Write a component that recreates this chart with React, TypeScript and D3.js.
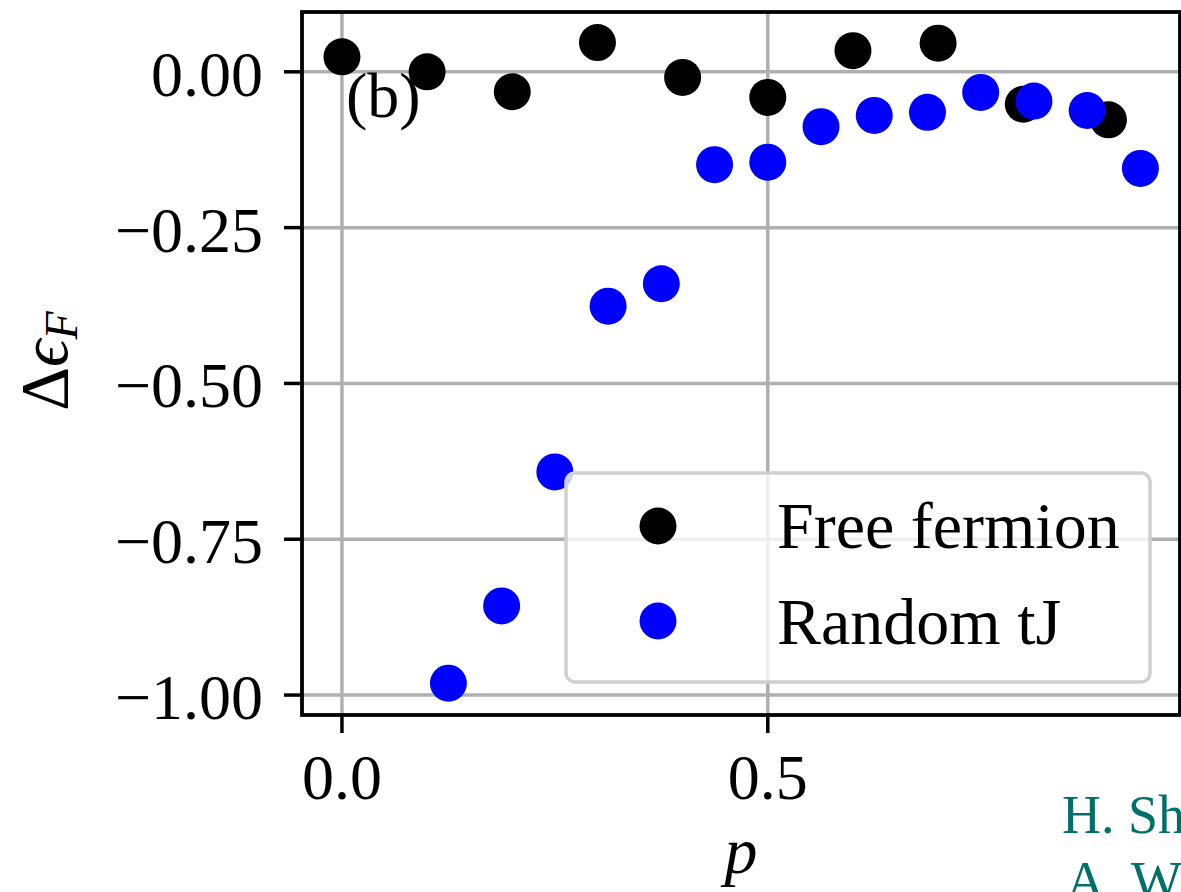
import React from "react";
import * as d3 from "d3";

// ---- data ----
const pFree = [0.0, 0.1, 0.2, 0.3, 0.4, 0.5, 0.6, 0.7, 0.8, 0.9];
const deltaFree = [0.024, 0.0, -0.032, 0.047, -0.009, -0.041, 0.034, 0.046, -0.052, -0.077];

const pTJ = [0.125, 0.1875, 0.25, 0.3125, 0.375, 0.4375, 0.5, 0.5625, 0.625, 0.6875, 0.75, 0.8125, 0.875, 0.9375];
const deltaTJ = [-0.981, -0.857, -0.642, -0.376, -0.340, -0.149, -0.145, -0.088, -0.070, -0.065, -0.033, -0.047, -0.062, -0.155];

const yTicks = [0, -0.25, -0.5, -0.75, -1.0];
const xTicks = [0.0, 0.5, 1.0];
const seriesNames = ["Free fermion", "Random tJ"];
const seriesColors = ["#000000", "#0000ff"];

const W = 1181;
const H = 892;
const L = 302, R = 1180, T = 12, B = 715;

const FONT = "'Liberation Serif', 'Times New Roman', serif";

export default function App() {
  const x = d3.scaleLinear().domain([-0.0469, 0.984]).range([L, R]);
  const y = d3.scaleLinear().domain([-1.032, 0.096]).range([B, T]);
  const fmtY = (v: number) => {
    const s = d3.format(".2f")(Math.abs(v));
    return (v < 0 ? "\u2212" : "") + s;
  };
  const fmtX = d3.format(".1f");
  const r = 18.5;
  const gridColor = "#b0b0b0";

  const legX = 566, legY = 473, legW = 584, legH = 209;

  return (
    <div style={{ position: "fixed", left: 0, top: 0, width: W, height: H, overflow: "hidden", background: "#fff" }}>
      <svg width={W} height={H} style={{ display: "block" }}>
        <defs>
          <clipPath id="plotclip">
            <rect x={L} y={T} width={R - L} height={B - T} />
          </clipPath>
        </defs>
        <rect x={0} y={0} width={W} height={H} fill="#fff" />
        {/* grid */}
        <g clipPath="url(#plotclip)">
          {yTicks.map((t) => (
            <line key={"gy" + t} x1={L} x2={R} y1={y(t)} y2={y(t)} stroke={gridColor} strokeWidth={3.5} />
          ))}
          {xTicks.map((t) => (
            <line key={"gx" + t} x1={x(t)} x2={x(t)} y1={T} y2={B} stroke={gridColor} strokeWidth={3.5} />
          ))}
        </g>
        {/* data */}
        <g clipPath="url(#plotclip)">
          {pFree.map((p, i) => (
            <circle key={"f" + i} cx={x(p)} cy={y(deltaFree[i])} r={r} fill={seriesColors[0]} />
          ))}
          {pTJ.map((p, i) => (
            <circle key={"t" + i} cx={x(p)} cy={y(deltaTJ[i])} r={r} fill={seriesColors[1]} />
          ))}
        </g>
        {/* spines */}
        <rect x={L} y={T} width={R - L} height={B - T} fill="none" stroke="#000" strokeWidth={3.8} />
        {/* y ticks */}
        {yTicks.map((t) => (
          <g key={"yt" + t}>
            <line x1={L - 18} x2={L} y1={y(t)} y2={y(t)} stroke="#000" strokeWidth={3.5} />
            <text x={263} y={y(t) + 24} textAnchor="end" fontFamily={FONT} fontSize={64} fill="#000">
              {fmtY(t)}
            </text>
          </g>
        ))}
        {/* x ticks */}
        {xTicks.filter((t) => x(t) <= R).map((t) => (
          <g key={"xt" + t}>
            <line x1={x(t)} x2={x(t)} y1={B} y2={B + 18} stroke="#000" strokeWidth={3.5} />
            <text x={x(t)} y={799} textAnchor="middle" fontFamily={FONT} fontSize={64} fill="#000">
              {fmtX(t)}
            </text>
          </g>
        ))}
        {/* axis labels */}
        <text x={741} y={873} textAnchor="middle" fontFamily={FONT} fontSize={66} fontStyle="italic" fill="#000">
          p
        </text>
        <text transform={`translate(67,361) rotate(-90)`} textAnchor="middle" fontFamily={FONT} fontSize={68} fill="#000">
          <tspan>Δ</tspan>
          <tspan fontStyle="italic">ϵ</tspan>
          <tspan fontStyle="italic" fontSize={46} dy={10}>F</tspan>
        </text>
        {/* panel label */}
        <text x={346} y={117} fontFamily={FONT} fontSize={64} fill="#000">
          (b)
        </text>
        {/* legend */}
        <rect x={legX} y={legY} width={legW} height={legH} rx={9} ry={9} fill="#fff" fillOpacity={0.8} stroke="#d0d0d0" strokeWidth={3.5} />
        {seriesNames.map((name, i) => (
          <g key={"leg" + i}>
            <circle cx={658} cy={526 + i * 95} r={r} fill={seriesColors[i]} />
            <text x={777} y={548 + i * 96} fontFamily={FONT} fontSize={66} fill="#000">
              {name}
            </text>
          </g>
        ))}
        {/* page overlay text (cut off at the right edge, as in the source) */}
        <text x={1062} y={833} fontFamily={FONT} fontSize={54} fill="#00706b">H. Sh</text>
        <text x={1066} y={899} fontFamily={FONT} fontSize={54} fill="#00706b">A. W</text>
      </svg>
    </div>
  );
}
